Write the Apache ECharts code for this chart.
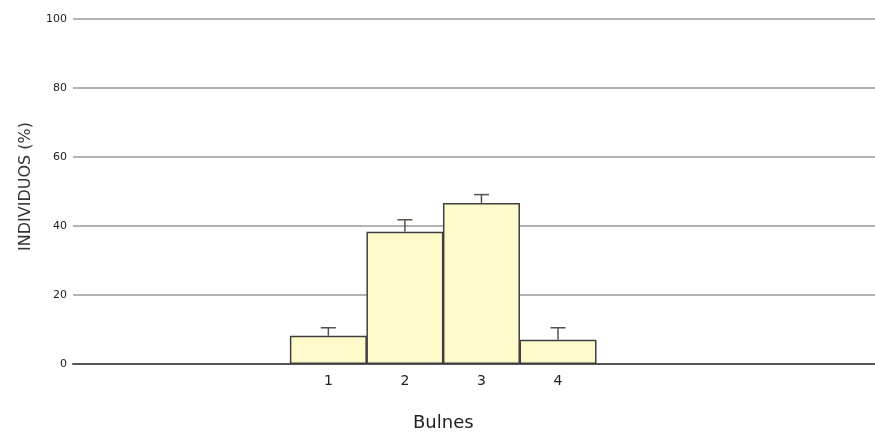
<!DOCTYPE html>
<html>
<head>
<meta charset="utf-8">
<script src="https://cdn.jsdelivr.net/npm/echarts@6/dist/echarts.min.js"></script>
<style>html,body{margin:0;padding:0;background:#fff;}#c{width:875px;height:438px;}</style>
</head>
<body>
<div id="c"></div>
<script>
const categories = [1, 2, 3, 4];
const percentValues = [8.2, 38.3, 46.7, 7.0];
const errorUpper = [10.5, 41.8, 49.1, 10.5];
const yTicks = [0, 20, 40, 60, 80, 100];
const xAxisTitle = 'Bulnes';
const yAxisTitle = 'INDIVIDUOS (%)';

const chart = echarts.init(document.getElementById('c'));
const FONT = 'DejaVu Sans';
chart.setOption({
  animation: false,
  backgroundColor: '#fff',
  grid: { left: 73, right: 0, top: 19, bottom: 74, containLabel: false, outerBoundsMode: 'none' },
  xAxis: {
    type: 'value',
    min: -2.336,
    max: 8.141,
    splitLine: { show: false },
    axisTick: { show: false },
    axisLine: { show: true, onZero: false, lineStyle: { color: '#555', width: 2 } },
    axisLabel: {
      customValues: categories,
      formatter: v => String(v),
      color: '#222', fontFamily: FONT, fontSize: 14, margin: 10
    }
  },
  yAxis: {
    type: 'value',
    min: yTicks[0], max: yTicks[yTicks.length - 1], interval: 20,
    axisLine: { show: false },
    axisTick: { show: false },
    splitLine: { lineStyle: { color: '#b3b3b3', width: 2 } },
    axisLabel: { color: '#222', fontFamily: FONT, fontSize: 11, margin: 6 },
    name: yAxisTitle,
    nameLocation: 'middle',
    nameRotate: 90,
    nameGap: 39,
    nameTextStyle: { color: '#333', fontFamily: FONT, fontSize: 16, padding: [0, 0, 0, 10] }
  },
  graphic: [{
    type: 'text', left: 444 - 31, top: 414,
    style: { text: xAxisTitle, fill: '#222', font: '18px "DejaVu Sans"' }
  }],
  series: [{
    type: 'bar',
    data: categories.map((c, i) => [c, percentValues[i]]),
    barWidth: 77,
    itemStyle: { color: '#FFFACB', borderColor: '#3f3f3f', borderWidth: 1.5 },
    z: 2
  }, {
    type: 'custom',
    data: categories.map((c, i) => [c, percentValues[i], errorUpper[i]]),
    encode: { x: 0, y: [1, 2] },
    renderItem: function (params, api) {
      const x = api.value(0);
      const p0 = api.coord([x, api.value(1)]);
      const p1 = api.coord([x, api.value(2)]);
      const hw = 7.5;
      const st = { stroke: '#5a504a', lineWidth: 1.5 };
      return {
        type: 'group',
        children: [
          { type: 'line', shape: { x1: p0[0], y1: p0[1], x2: p1[0], y2: p1[1] }, style: st },
          { type: 'line', shape: { x1: p1[0] - hw, y1: p1[1], x2: p1[0] + hw, y2: p1[1] }, style: st }
        ]
      };
    },
    z: 3
  }]
});
</script>
</body>
</html>
